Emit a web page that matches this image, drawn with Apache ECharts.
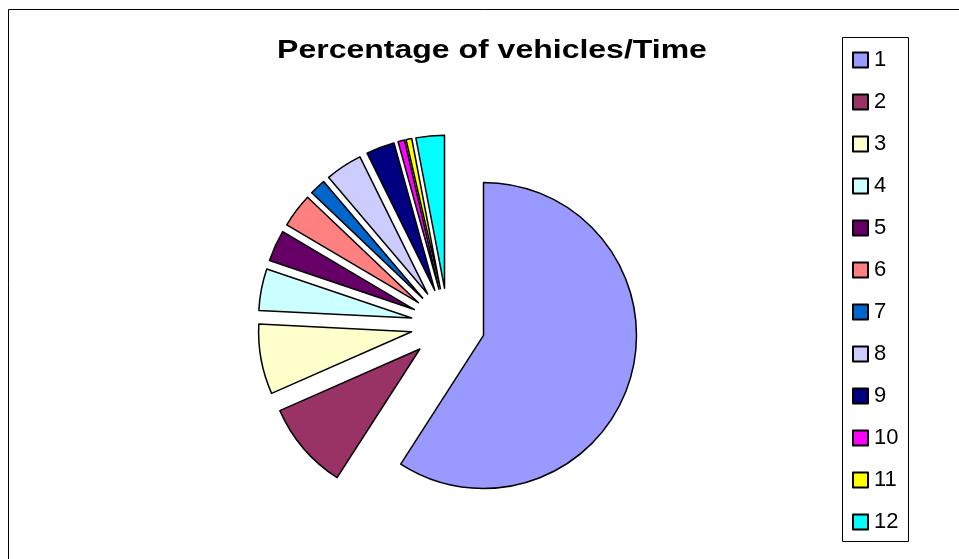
<!DOCTYPE html>
<html>
<head>
<meta charset="utf-8">
<style>html,body{margin:0;padding:0;background:#fff;}#c{width:959px;height:559px;}</style>
<script src="https://cdn.jsdelivr.net/npm/echarts@6/dist/echarts.min.js"></script>
</head>
<body>
<div id="c"></div>
<script>
var categories = ['1','2','3','4','5','6','7','8','9','10','11','12'];
var values = [59.1, 9.3, 7.4, 4.4, 3.3, 3.6, 1.7, 3.9, 3.0, 0.7, 0.6, 3.0];
var colors = ['#9999FF','#993366','#FFFFCC','#CCFFFF','#660066','#FF8080','#0066CC','#CCCCFF','#000080','#FF00FF','#FFFF00','#00FFFF'];
var titleText = 'Percentage of vehicles/Time';

var chart = echarts.init(document.getElementById('c'), null, {renderer: 'canvas'});
var data = categories.map(function (c, i) {
  return {name: c, value: values[i], selected: true,
    itemStyle: {color: colors[i], borderColor: '#000', borderWidth: 1.5}};
});
chart.setOption({
  animation: false,
  backgroundColor: '#fff',
  legend: {
    orient: 'vertical', left: 847, top: 44,
    itemWidth: 15, itemHeight: 15, itemGap: 20,
    icon: 'rect',
    data: categories,
    selectedMode: false,
    textStyle: {fontFamily: 'Liberation Sans, Arial, sans-serif', fontSize: 22, color: '#000', padding: [0,0,0,1], lineHeight: 22}
  },
  graphic: [
    {type: 'rect', shape: {x: 8.5, y: 9.5, width: 1000, height: 1000}, style: {fill: null, stroke: '#000', lineWidth: 1}, silent: true, z: -1},
    {type: 'rect', shape: {x: 842.5, y: 37.5, width: 66, height: 504}, style: {fill: null, stroke: '#000', lineWidth: 1}, silent: true},
    {type: 'text', x: 492, y: 51, scaleX: 1.28, silent: true,
      style: {text: titleText, fill: '#000', textAlign: 'center', textVerticalAlign: 'middle',
        font: 'bold 25px "Liberation Sans", Arial, sans-serif'}}
  ],
  series: [{
    type: 'pie',
    center: [448, 325],
    radius: [0, 153],
    startAngle: 90,
    clockwise: true,
    selectedMode: 'multiple',
    selectedOffset: 37,
    avoidLabelOverlap: false,
    label: {show: false},
    labelLine: {show: false},
    emphasis: {disabled: true},
    data: data
  }]
});
</script>
</body>
</html>
